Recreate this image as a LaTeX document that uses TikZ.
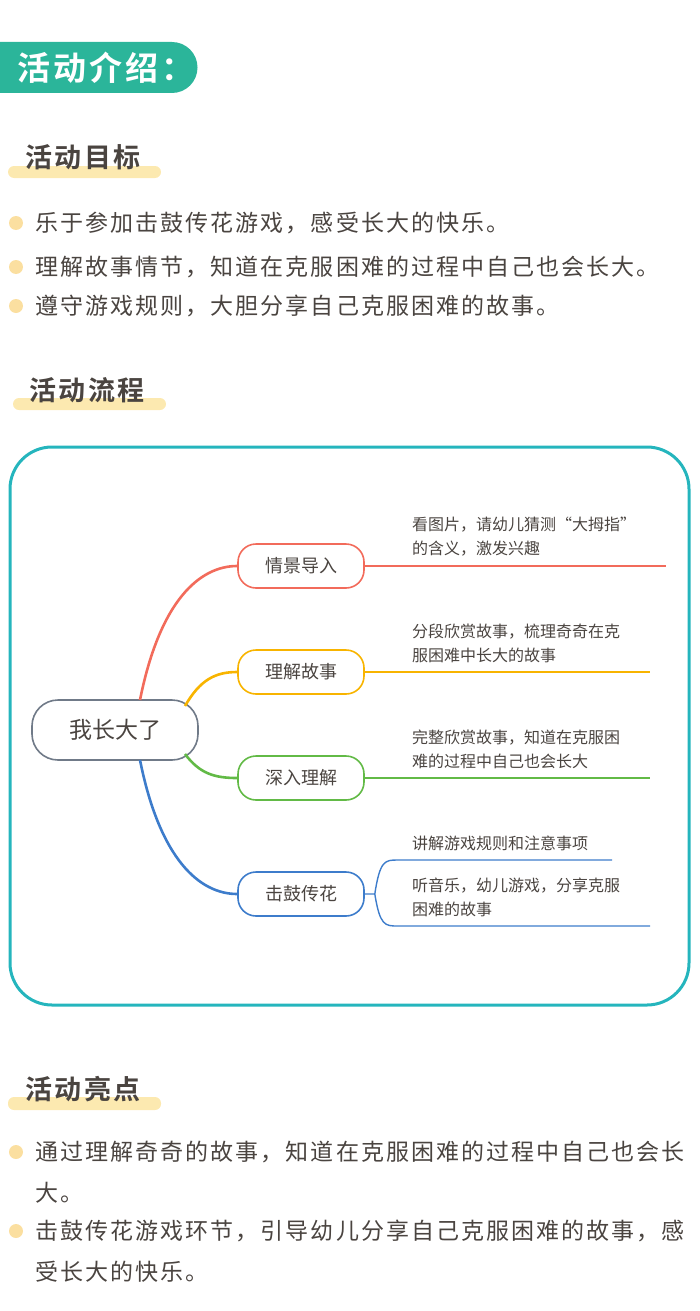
\documentclass[tikz,border=0pt]{standalone}
\usepackage{fontspec}
\newfontfamily\cjk[LetterSpace=9,BoldFont={Noto Sans CJK SC Bold}]{Noto Sans CJK SC}
\newfontfamily\cjkmap{Noto Sans CJK SC}
\usetikzlibrary{positioning}
\definecolor{teal}{HTML}{2BB59A}
\definecolor{frame}{HTML}{25B5BD}
\definecolor{ink}{HTML}{4A4440}
\definecolor{hilite}{HTML}{FCE9B0}
\definecolor{dot}{HTML}{FBDFA0}
\definecolor{rootgray}{HTML}{707A88}
\definecolor{bred}{HTML}{F26B5B}
\definecolor{borange}{HTML}{F8B400}
\definecolor{bgreen}{HTML}{62BA46}
\definecolor{bblue}{HTML}{3D7CCB}
\tikzset{
  heading/.style = {
    anchor=west, inner sep=0pt, text=ink,
    font={\cjk\bfseries\fontsize{27}{27}\selectfont}
  },
  bar/.style = {
    fill=hilite, rounded corners=6pt
  },
  item/.style = {
    anchor=west, inner sep=0pt, text=ink,
    font={\cjk\fontsize{23}{23}\selectfont}
  },
  branch/.style = {
    draw=#1, line width=1.6pt, rounded corners=18pt, minimum width=126pt,
    minimum height=44pt, text=ink, font={\cjkmap\fontsize{18}{18}\selectfont}
  },
  desc/.style = {
    anchor=west, inner sep=0pt, text=ink, align=left,
    font={\cjkmap\fontsize{16}{24}\selectfont}
  },
  link/.style = {
    draw=#1, line width=2.6pt
  },
}
\begin{document}
\begin{tikzpicture}[x=1pt,y=-1pt]
  \useasboundingbox (0,0) rectangle (700,1311);

  % banner
  \fill[teal] (0,42) -- (172,42) arc[start angle=-90,end angle=90,radius=25.5] -- (0,93) -- cycle;
  \node[anchor=west, inner sep=0pt, text=white, font={\cjk\bfseries\fontsize{33}{33}\selectfont}] (intro) at (17,68) {活动介绍：};

  % goals
  \fill[bar] (8,166) rectangle (161,178);
  \node[heading] (goals) at (25,157) {活动目标};
  \foreach \ypos/\txt in {
    223/乐于参加击鼓传花游戏，感受长大的快乐。,
    267/理解故事情节，知道在克服困难的过程中自己也会长大。,
    306/遵守游戏规则，大胆分享自己克服困难的故事。
  } {
    \fill[dot] (16,\ypos) circle (7);
    \node[item] at (35,\ypos) {\txt};
  }

  % flow
  \fill[bar] (13,398) rectangle (166,410);
  \node[heading] (flow) at (29,390) {活动流程};
  \draw[frame, line width=3pt, rounded corners=42pt] (10,447) rectangle (689,1005);

  \node[draw=rootgray, line width=1.6pt, rounded corners=26pt, minimum width=166pt,
    minimum height=60pt, text=ink, font={\cjkmap\fontsize{23}{23}\selectfont}] (root) at (115,730) {我长大了};
  \node[branch=bred] (scene) at (301,566) {情景导入};
  \node[branch=borange] (story) at (301,672) {理解故事};
  \node[branch=bgreen] (deep) at (301,778) {深入理解};
  \node[branch=bblue] (drum) at (301,894) {击鼓传花};

  \draw[link=bred] (140,700) .. controls (160,600) and (200,566) .. (scene.west);
  \draw[link=borange] (185,706) .. controls (200,680) and (215,672) .. (story.west);
  \draw[link=bgreen] (185,754) .. controls (200,774) and (215,778) .. (deep.west);
  \draw[link=bblue] (140,760) .. controls (160,860) and (200,894) .. (drum.west);

  \coordinate (sceneend) at (666,566);
  \coordinate (storyend) at (650,672);
  \coordinate (deepend) at (650,778);
  \coordinate (rulesend) at (612,860);
  \coordinate (playend) at (650,926);
  \draw[bred, line width=1.4pt] (scene.east) -- (sceneend);
  \draw[borange, line width=1.4pt] (story.east) -- (storyend);
  \draw[bgreen, line width=1.4pt] (deep.east) -- (deepend);
  \draw[bblue, line width=1.4pt] (drum.east) -- ++(10,0) coordinate (fork)
    (fork) .. controls (380,860) and (385,860) .. (398,860) -- (rulesend)
    (fork) .. controls (380,926) and (385,926) .. (398,926) -- (playend);

  \node[desc] (scenetxt) at (412,537) {看图片，请幼儿猜测“大拇指”\\的含义，激发兴趣};
  \node[desc] (storytxt) at (412,643) {分段欣赏故事，梳理奇奇在克\\服困难中长大的故事};
  \node[desc] (deeptxt) at (412,749) {完整欣赏故事，知道在克服困\\难的过程中自己也会长大};
  \node[desc] (rulestxt) at (412,843) {讲解游戏规则和注意事项};
  \node[desc] (playtxt) at (412,897) {听音乐，幼儿游戏，分享克服\\困难的故事};

  % highlights
  \fill[bar] (8,1097) rectangle (161,1110);
  \node[heading] (points) at (25,1089) {活动亮点};
  \fill[dot] (16,1152) circle (7);
  \node[item] at (35,1152) {通过理解奇奇的故事，知道在克服困难的过程中自己也会长};
  \node[item] at (35,1193) {大。};
  \fill[dot] (16,1231) circle (7);
  \node[item] at (35,1231) {击鼓传花游戏环节，引导幼儿分享自己克服困难的故事，感};
  \node[item] at (35,1272) {受长大的快乐。};
\end{tikzpicture}
\end{document}
